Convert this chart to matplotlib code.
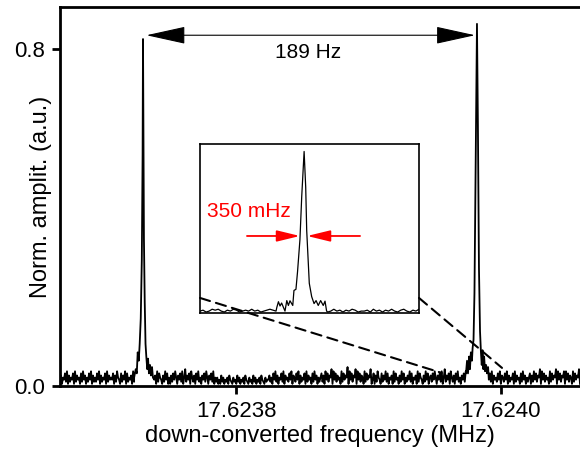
import numpy as np
import matplotlib
matplotlib.use('Agg')
import matplotlib.pyplot as plt
from matplotlib.patches import ConnectionPatch

plt.rcParams['font.family'] = ['Liberation Sans', 'DejaVu Sans']

f0 = 17.6238  # MHz, offsets below are in Hz from this

# baseline noise of the spectrum, read at ~1 px steps, one digit = 0.005
noise_digits = ("2514362715243617253416273514263715242637152436172534"
                "3615274316253716243517263415273614253716243517264315"
                "2736141526374153627148253617425163724153627415362714"
                "2413152413241532142315241324153214231524132415321423"
                "3524163725143627153426371542637152436172534162735142"
                "4625173625481736253417263549173625481736254172635481"
                "3615274316253726143517263415273614253726143517264315"
                "2736145263741536271482536174251637241536274153627148"
                "3524163725143627153426371542637152436172534162735142"
                "4615273625481736253417263548173625471736254172635481")
noise_start, noise_stop = -133.0, 259.7

# left beat note
peak1_hz = [-77.0, -75.8, -75.0, -74.3, -73.5, -72.8, -72.0, -71.2, -70.6, -70.3, -70.0,
            -69.6, -69.0, -68.4, -67.8, -67.1, -66.5, -65.8, -65.0, -64.3, -63.5, -62.8]
peak1_amp = [0.02, 0.04, 0.03, 0.08, 0.06, 0.10, 0.16, 0.30, 0.55, 0.824, 0.60,
             0.35, 0.20, 0.10, 0.07, 0.04, 0.065, 0.03, 0.05, 0.025, 0.045, 0.02]

# right beat note
peak2_hz = [173.6, 174.4, 175.1, 176.0, 176.6, 177.3, 178.1, 178.6, 179.3, 180.0, 181.0, 181.9,
            182.6, 183.4, 184.2, 184.9, 185.5, 186.1, 186.7, 187.3, 188.0, 188.8, 189.5, 190.3]
peak2_amp = [0.03, 0.06, 0.03, 0.07, 0.04, 0.08, 0.06, 0.09, 0.11, 0.22, 0.55, 0.86,
             0.62, 0.28, 0.13, 0.08, 0.05, 0.085, 0.04, 0.07, 0.035, 0.05, 0.03, 0.045]

# inset: zoom on the right beat note, Hz from its centre
inset_digits = "2312434213243123242312343213242312432134231242313243122314231324213421324"
inset_start, inset_stop = -5.2, 5.8
inset_peak_hz = [-1.34, -1.26, -1.18, -1.10, -0.93, -0.84, -0.76, -0.68, -0.54, -0.48, -0.38, -0.30, -0.18,
                 -0.09, 0.03, 0.11, 0.16, 0.29, 0.41, 0.53, 0.63, 0.74, 0.86, 0.99, 1.08, 1.16]
inset_peak_amp = [0.03, 0.06, 0.037, 0.053, 0.01, 0.066, 0.04, 0.065, 0.04, 0.12, 0.126, 0.22, 0.39,
                  0.62, 0.86, 0.67, 0.44, 0.158, 0.087, 0.05, 0.066, 0.04, 0.066, 0.04, 0.063, 0.01]

xticks = [17.6238, 17.6240]
xtick_labels = ['17.6238', '17.6240']
yticks = [0.0, 0.8]
ytick_labels = ['0.0', '0.8']


def build_trace(start, stop, digits, peaks):
    # noise grid with the peak windows cut out and the peak points put in
    x = np.linspace(start, stop, len(digits))
    y = np.array([int(c) for c in digits]) * 0.005
    keep = np.ones(len(x), bool)
    for px, py in peaks:
        keep &= (x < min(px)) | (x > max(px))
    xs = np.concatenate([x[keep]] + [np.array(p[0]) for p in peaks])
    ys = np.concatenate([y[keep]] + [np.array(p[1]) for p in peaks])
    order = np.argsort(xs)
    return xs[order], ys[order]


hz, amp = build_trace(noise_start, noise_stop, noise_digits,
                      [(peak1_hz, peak1_amp), (peak2_hz, peak2_amp)])
hz_in, amp_in = build_trace(inset_start, inset_stop, inset_digits,
                            [(inset_peak_hz, inset_peak_amp)])

fig = plt.figure(figsize=(5.8, 4.53), dpi=100)
ax = fig.add_axes([0.1034, 0.1479, 0.8966, 0.8366])
ax.plot(f0 + hz * 1e-6, amp, color='black', lw=1.3)
ax.set_xlim(f0 + noise_start * 1e-6, f0 + noise_stop * 1e-6)
ax.set_ylim(0, 0.9)
ax.set_xticks(xticks, xtick_labels)
ax.set_yticks(yticks, ytick_labels)
ax.spines['right'].set_visible(False)
for s in ['left', 'top', 'bottom']:
    ax.spines[s].set_linewidth(2)
ax.tick_params(direction='out', length=6, width=2, labelsize=16, pad=5)
ax.set_xlabel('down-converted frequency (MHz)', fontsize=17, labelpad=2)
ax.set_ylabel('Norm. amplit. (a.u.)', fontsize=17)
ax.yaxis.set_label_coords(-0.016, 0.5)

# 189 Hz spacing arrow
ax.annotate('', xy=(f0 - 67.7e-6, 0.833), xytext=(f0 + 180.4e-6, 0.833),
            arrowprops=dict(arrowstyle='<|-|>,head_length=25,head_width=5.5', mutation_scale=1,
                            lw=0.8, color='black', shrinkA=0, shrinkB=0))
ax.text(f0 + 54.2e-6, 0.793, '189 Hz', ha='center', va='center', fontsize=15)

# inset
axi = fig.add_axes([0.3448, 0.3091, 0.3776, 0.3731])
axi.plot(hz_in, amp_in, color='black', lw=0.9)
axi.set_xlim(inset_start, inset_stop)
axi.set_ylim(0, 0.9)
axi.set_xticks([])
axi.set_yticks([])
for s in axi.spines.values():
    s.set_linewidth(1.2)

red_arrow = dict(arrowstyle='-|>,head_length=14,head_width=3.4', mutation_scale=1,
                 color='red', lw=1.3, shrinkA=0, shrinkB=0)
axi.annotate('', xy=(-0.18, 0.41), xytext=(-2.84, 0.41), arrowprops=red_arrow)
axi.annotate('', xy=(0.18, 0.41), xytext=(2.84, 0.41), arrowprops=red_arrow)
axi.text(-4.85, 0.538, '350 mHz', ha='left', va='center', color='red', fontsize=15)

# dashed zoom lines from the inset to the right peak
for xa, xb, yb in [(0, 155.4, 0.031), (1, 200.8, 0.043)]:
    con = ConnectionPatch(xyA=(xa, 0.089), coordsA=axi.transAxes,
                          xyB=(f0 + xb * 1e-6, yb), coordsB=ax.transData,
                          ls=(0, (5, 3)), lw=1.5, color='black')
    fig.add_artist(con)

fig.savefig('out.png', dpi=100)
